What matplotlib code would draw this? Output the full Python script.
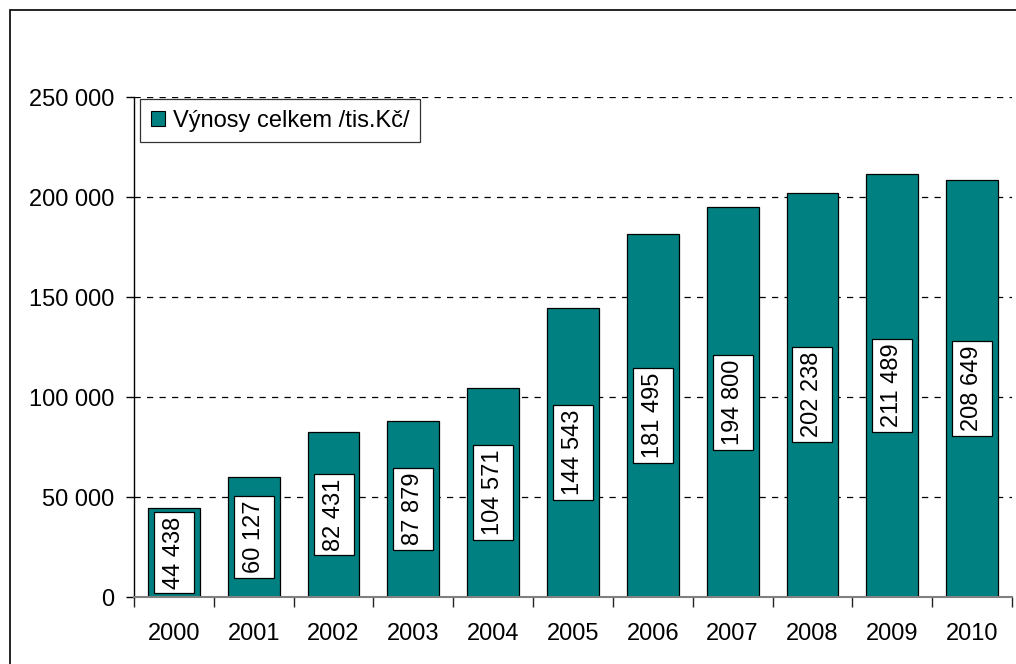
import matplotlib
matplotlib.use("Agg")
import matplotlib.pyplot as plt
from matplotlib.patches import Rectangle, Patch
import numpy as np

years = ["2000", "2001", "2002", "2003", "2004", "2005", "2006", "2007", "2008", "2009", "2010"]
values = [44438, 60127, 82431, 87879, 104571, 144543, 181495, 194800, 202238, 211489, 208649]
series_name = "Výnosy celkem /tis.Kč/"
yticks = [0, 50000, 100000, 150000, 200000, 250000]

plt.rcParams['font.family'] = ['Liberation Sans', 'DejaVu Sans']

W, H = 1016, 664
fig = plt.figure(figsize=(W / 100, H / 100), dpi=100)
FS = 17

def fmt(v):
    return f"{v:,}".replace(",", " ")

# figure border (top & left visible, right/bottom outside canvas)
fig.patches.append(Rectangle((9.5 / W, -0.1), 1.2, (H - 9.5) / H + 0.1, transform=fig.transFigure,
                             fill=False, edgecolor='black', linewidth=1.2))

ax = fig.add_axes([134 / W, 1 - 597 / H, (1012 - 134) / W, (597 - 97) / H])
x = np.arange(len(years))
teal = '#008080'
ax.bar(x, values, width=0.65, color=teal, edgecolor='black', linewidth=0.9, zorder=3)

for xi, v in zip(x, values):
    ax.text(xi, v / 2, fmt(v), rotation=90, ha='center', va='center', fontsize=FS,
            zorder=4,
            bbox=dict(boxstyle='square,pad=0.2', mutation_aspect=1.9,
                      facecolor='white', edgecolor='black', linewidth=0.9))

ax.set_xlim(-0.5, len(years) - 0.5)
ax.set_ylim(0, 250000)
ax.set_yticks(yticks)
ax.set_yticklabels([fmt(t) for t in yticks], fontsize=FS)
ax.tick_params(axis='y', direction='out', length=6, width=1, pad=8, color='black')
ax.yaxis.get_major_ticks()[0].tick1line.set_color('#808080')

ax.set_xticks(x)
ax.set_xticklabels(years, fontsize=FS)
ax.tick_params(axis='x', which='major', length=0, pad=19)
ax.set_xticks(np.arange(-0.5, len(years)), minor=True)
ax.tick_params(axis='x', which='minor', direction='out', length=7, width=1, color='#222222')

for yv in yticks[1:]:
    ax.axhline(yv, color='black', linewidth=0.9, linestyle=(0, (5, 5)), zorder=1)

for s in ['top', 'right']:
    ax.spines[s].set_visible(False)
ax.spines['left'].set_color('black')
ax.spines['left'].set_linewidth(1)
ax.spines['bottom'].set_color('#808080')
ax.spines['bottom'].set_linewidth(1.5)
ax.spines['bottom'].set_zorder(5)

handle = Patch(facecolor=teal, edgecolor='black', linewidth=0.8)
leg = ax.legend([handle], [series_name], loc='upper left',
                bbox_to_anchor=(140 / W, 1 - 99 / H), bbox_transform=fig.transFigure,
                fontsize=FS, frameon=True, fancybox=False, shadow=False,
                handlelength=0.6, handleheight=0.6, handletextpad=0.35,
                borderpad=0.45, borderaxespad=0)
leg.get_frame().set_edgecolor('black')
leg.get_frame().set_linewidth(0.9)
leg.set_zorder(6)

fig.savefig("out.png", dpi=100)
